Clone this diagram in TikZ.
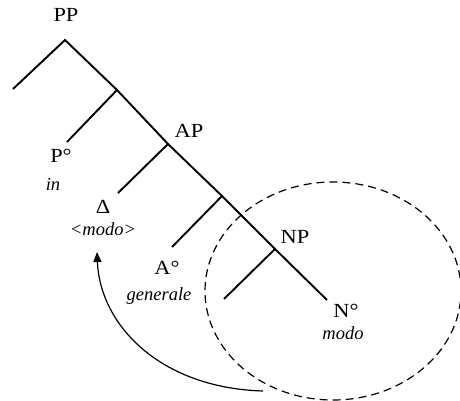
\documentclass[tikz,border=0pt]{standalone}
\usepackage{fontspec}
\setmainfont{Liberation Serif}
\newfontfamily\catfont{Liberation Serif}[FakeStretch=1.12]
\usetikzlibrary{arrows.meta,shapes.geometric}
\begin{document}
\begin{tikzpicture}[x=1pt,y=-1pt,
  branch/.style={line width=1.9pt},
  cat/.style={inner sep=0pt,font=\catfont\fontsize{20}{20}\selectfont},
  word/.style={inner sep=0pt,font=\fontsize{18.5}{18.5}\selectfont\itshape},
  movearrow/.style={line width=1.2pt,-{Triangle[length=10pt,width=8pt]}}]
\useasboundingbox (0,0) rectangle (460,401);

% branching points and leaf ends
\coordinate (pp) at (65,40);
\coordinate (specpp) at (13,89);
\coordinate (pbar) at (117,90);
\coordinate (p0) at (67,142);
\coordinate (ap) at (168,144);
\coordinate (specap) at (118,193);
\coordinate (abar) at (222,196);
\coordinate (a0) at (172,247);
\coordinate (np) at (275,249);
\coordinate (specnp) at (224,299);
\coordinate (n0) at (327,300);

% tree branches
\draw[branch] (specpp) -- (pp) -- (pbar);
\draw[branch] (p0) -- (pbar) -- (ap);
\draw[branch] (specap) -- (ap) -- (abar);
\draw[branch] (a0) -- (abar) -- (np);
\draw[branch] (specnp) -- (np) -- (n0);

% category labels
\node[cat] (lPP) at (66,15) {PP};
\node[cat] (lAP) at (189,131) {AP};
\node[cat] (lP0) at (61,156) {P°};
\node[cat] (lDelta) at (103,207) {Δ};
\node[cat] (lA0) at (167,268) {A°};
\node[cat] (lNP) at (295,237) {NP};
\node[cat] (lN0) at (346,311) {N°};

% lexical items
\node[word] (win) at (53,184) {in};
\node[word] (wtrace) at (103,229) {<modo>};
\node[word] (wgen) at (159,296) {generale};
\node[word] (wmodo) at (343,333) {modo};

% dashed ellipse around the moved constituent
\node[draw,dashed,ellipse,line width=1.2pt,dash pattern=on 8pt off 5pt,
      minimum width=256pt,minimum height=218pt,inner sep=0pt] (domain) at (333,291) {};

% movement arrow
\coordinate (origin) at (263,391);
\coordinate (target) at (97,252);
\draw[movearrow] (origin) .. controls (160,388) and (100,325) .. (target);
\end{tikzpicture}
\end{document}
